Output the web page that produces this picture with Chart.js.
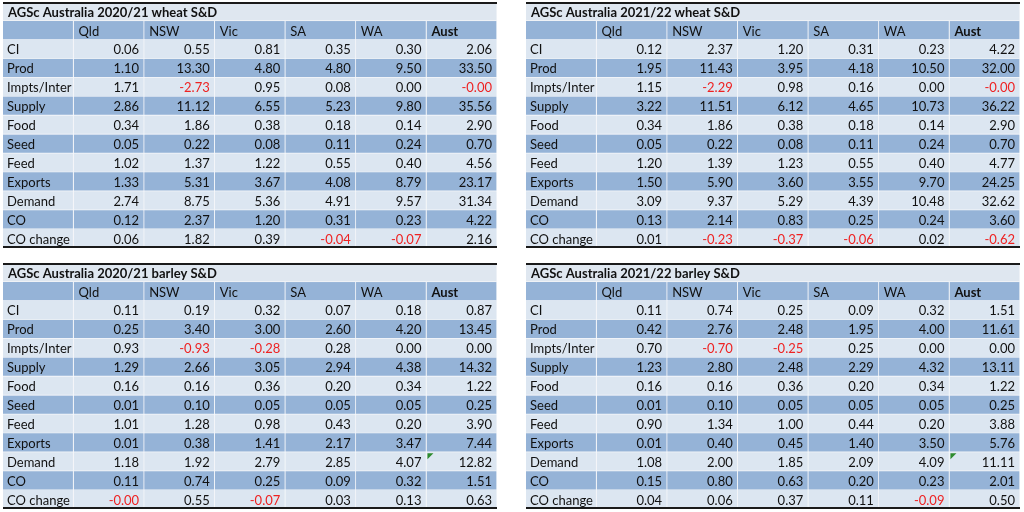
<!DOCTYPE html>
<html lang="en">
<head>
<meta charset="UTF-8">
<title>AGSc Australia wheat and barley S&amp;D</title>
<script src="https://cdn.jsdelivr.net/npm/chart.js"></script>
<style>
  html, body { margin: 0; padding: 0; background: #fff; }
  body { width: 1024px; height: 512px; position: relative; overflow: hidden; }
  .tbl { position: absolute; width: 494px; height: 246px; }
</style>
</head>
<body>
<div class="tbl" style="left:3px; top:2px;"><canvas id="wheat2021"></canvas></div>
<div class="tbl" style="left:526px; top:2px;"><canvas id="wheat2122"></canvas></div>
<div class="tbl" style="left:3px; top:263px;"><canvas id="barley2021"></canvas></div>
<div class="tbl" style="left:526px; top:263px;"><canvas id="barley2122"></canvas></div>

<script>
const states = ['Qld', 'NSW', 'Vic', 'SA', 'WA', 'Aust'];
const rowLabels = ['CI', 'Prod', 'Impts/Inter', 'Supply', 'Food', 'Seed', 'Feed', 'Exports', 'Demand', 'CO', 'CO change'];

// -0.001 stands for the small negatives shown as -0.00
const wheat2021 = [
  [0.06, 0.55, 0.81, 0.35, 0.30, 2.06],
  [1.10, 13.30, 4.80, 4.80, 9.50, 33.50],
  [1.71, -2.73, 0.95, 0.08, 0.00, -0.001],
  [2.86, 11.12, 6.55, 5.23, 9.80, 35.56],
  [0.34, 1.86, 0.38, 0.18, 0.14, 2.90],
  [0.05, 0.22, 0.08, 0.11, 0.24, 0.70],
  [1.02, 1.37, 1.22, 0.55, 0.40, 4.56],
  [1.33, 5.31, 3.67, 4.08, 8.79, 23.17],
  [2.74, 8.75, 5.36, 4.91, 9.57, 31.34],
  [0.12, 2.37, 1.20, 0.31, 0.23, 4.22],
  [0.06, 1.82, 0.39, -0.04, -0.07, 2.16]
];
const wheat2122 = [
  [0.12, 2.37, 1.20, 0.31, 0.23, 4.22],
  [1.95, 11.43, 3.95, 4.18, 10.50, 32.00],
  [1.15, -2.29, 0.98, 0.16, 0.00, -0.001],
  [3.22, 11.51, 6.12, 4.65, 10.73, 36.22],
  [0.34, 1.86, 0.38, 0.18, 0.14, 2.90],
  [0.05, 0.22, 0.08, 0.11, 0.24, 0.70],
  [1.20, 1.39, 1.23, 0.55, 0.40, 4.77],
  [1.50, 5.90, 3.60, 3.55, 9.70, 24.25],
  [3.09, 9.37, 5.29, 4.39, 10.48, 32.62],
  [0.13, 2.14, 0.83, 0.25, 0.24, 3.60],
  [0.01, -0.23, -0.37, -0.06, 0.02, -0.62]
];
const barley2021 = [
  [0.11, 0.19, 0.32, 0.07, 0.18, 0.87],
  [0.25, 3.40, 3.00, 2.60, 4.20, 13.45],
  [0.93, -0.93, -0.28, 0.28, 0.00, 0.00],
  [1.29, 2.66, 3.05, 2.94, 4.38, 14.32],
  [0.16, 0.16, 0.36, 0.20, 0.34, 1.22],
  [0.01, 0.10, 0.05, 0.05, 0.05, 0.25],
  [1.01, 1.28, 0.98, 0.43, 0.20, 3.90],
  [0.01, 0.38, 1.41, 2.17, 3.47, 7.44],
  [1.18, 1.92, 2.79, 2.85, 4.07, 12.82],
  [0.11, 0.74, 0.25, 0.09, 0.32, 1.51],
  [-0.001, 0.55, -0.07, 0.03, 0.13, 0.63]
];
const barley2122 = [
  [0.11, 0.74, 0.25, 0.09, 0.32, 1.51],
  [0.42, 2.76, 2.48, 1.95, 4.00, 11.61],
  [0.70, -0.70, -0.25, 0.25, 0.00, 0.00],
  [1.23, 2.80, 2.48, 2.29, 4.32, 13.11],
  [0.16, 0.16, 0.36, 0.20, 0.34, 1.22],
  [0.01, 0.10, 0.05, 0.05, 0.05, 0.25],
  [0.90, 1.34, 1.00, 0.44, 0.20, 3.88],
  [0.01, 0.40, 0.45, 1.40, 3.50, 5.76],
  [1.08, 2.00, 1.85, 2.09, 4.09, 11.11],
  [0.15, 0.80, 0.63, 0.20, 0.23, 2.01],
  [0.04, 0.06, 0.37, 0.11, -0.09, 0.50]
];

const LIGHT = '#dce6f1';
const DARK = '#95b3d7';
const TITLE_BG = '#dfe7f0';
const FONT = 'Lato, "Liberation Sans", sans-serif';

// table rows on the category axis: title, header, then the S&D rows
const rowKeys = ['title', 'header'].concat(rowLabels);
const nCols = states.length + 1;

function rowColour(r) {
  if (r === 0) return TITLE_BG;
  if (r === 1) return DARK;
  return (r - 2) % 2 === 0 ? LIGHT : DARK;
}

const tableText = {
  id: 'tableText',
  afterDatasetsDraw(chart, args, opts) {
    const ctx = chart.ctx;
    const x = chart.scales.x, y = chart.scales.y;
    const area = chart.chartArea;
    ctx.save();
    ctx.textBaseline = 'middle';
    ctx.fillStyle = '#111';

    // title
    ctx.font = 'bold 13px ' + FONT;
    ctx.textAlign = 'left';
    ctx.fillText(opts.title, x.getPixelForValue(0) + 5, y.getPixelForValue(0) + 1);

    // header
    states.forEach((s, i) => {
      ctx.font = (s === 'Aust' ? 'bold ' : '') + '13px ' + FONT;
      ctx.fillText(s, x.getPixelForValue(i + 1) + 5, y.getPixelForValue(1) + 1);
    });

    // body
    opts.values.forEach((row, r) => {
      const py = y.getPixelForValue(r + 2) + 1;
      ctx.font = '13px ' + FONT;
      ctx.textAlign = 'left';
      ctx.fillStyle = '#111';
      ctx.fillText(rowLabels[r], x.getPixelForValue(0) + 4, py);
      ctx.textAlign = 'right';
      row.forEach((v, c) => {
        ctx.fillStyle = v < 0 ? '#ee2222' : '#111';
        ctx.fillText(v.toFixed(2), x.getPixelForValue(c + 2) - 5, py);
      });
    });

    // Excel error flag
    if (opts.flag) {
      const r = rowLabels.indexOf(opts.flag.row) + 2;
      const c = states.indexOf(opts.flag.col) + 1;
      const fx = x.getPixelForValue(c) + 1;
      const fy = y.getPixelForValue(r) - (y.getPixelForValue(1) - y.getPixelForValue(0)) / 2 + 1;
      ctx.fillStyle = '#2e8b2e';
      ctx.beginPath();
      ctx.moveTo(fx, fy);
      ctx.lineTo(fx + 6, fy);
      ctx.lineTo(fx, fy + 6);
      ctx.closePath();
      ctx.fill();
    }

    // top and bottom rules
    ctx.strokeStyle = '#1a1a1a';
    ctx.lineWidth = 2;
    ctx.beginPath();
    ctx.moveTo(area.left, area.top + 1);
    ctx.lineTo(area.right, area.top + 1);
    ctx.moveTo(area.left, area.bottom - 1);
    ctx.lineTo(area.right, area.bottom - 1);
    ctx.stroke();
    ctx.restore();
  }
};

function makeTable(id, title, values, flag) {
  const datasets = [];
  for (let c = 0; c < nCols; c++) {
    datasets.push({
      data: rowKeys.map((k, r) => r === 0 ? (c === 0 ? [0, nCols] : null) : [c, c + 1]),
      backgroundColor: rowKeys.map((k, r) => rowColour(r)),
      borderColor: '#f4f6f9',
      borderWidth: { top: 0, left: 0, right: 1, bottom: 1 },
      borderSkipped: false,
      grouped: false,
      barPercentage: 1,
      categoryPercentage: 1
    });
  }
  new Chart(document.getElementById(id), {
    type: 'bar',
    data: { labels: rowKeys, datasets: datasets },
    options: {
      indexAxis: 'y',
      responsive: true,
      maintainAspectRatio: false,
      animation: false,
      layout: { padding: 0 },
      scales: {
        x: { type: 'linear', min: 0, max: nCols, display: false },
        y: { display: false }
      },
      plugins: {
        legend: { display: false },
        tooltip: { enabled: false },
        tableText: { title: title, values: values, flag: flag }
      }
    },
    plugins: [tableText]
  });
}

makeTable('wheat2021', 'AGSc Australia 2020/21 wheat S&D', wheat2021);
makeTable('wheat2122', 'AGSc Australia 2021/22 wheat S&D', wheat2122);
makeTable('barley2021', 'AGSc Australia 2020/21 barley S&D', barley2021, { row: 'Demand', col: 'Aust' });
makeTable('barley2122', 'AGSc Australia 2021/22 barley S&D', barley2122, { row: 'Demand', col: 'Aust' });
</script>
</body>
</html>
